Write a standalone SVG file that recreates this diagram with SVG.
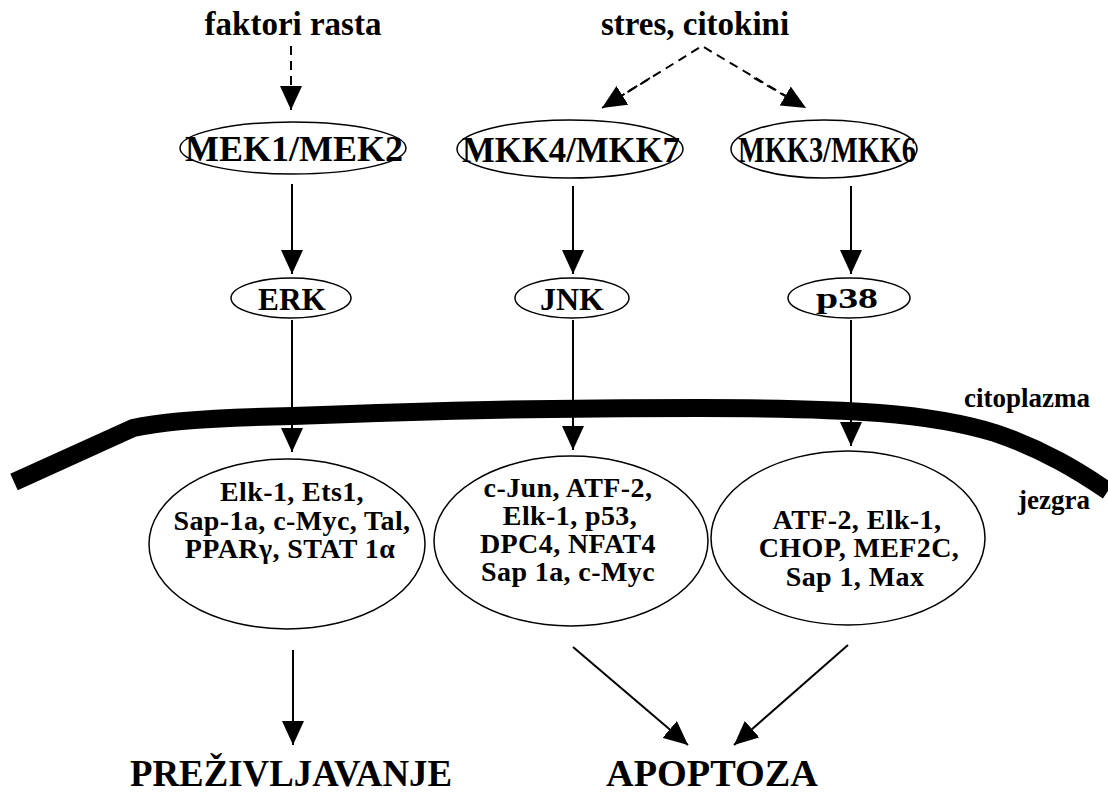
<svg xmlns="http://www.w3.org/2000/svg" width="1108" height="798" viewBox="0 0 1108 798">
<style>
.t{font-family:"Liberation Serif","Times New Roman",serif;font-weight:bold;fill:#000;text-anchor:middle}
.s{font-size:28px;letter-spacing:0.4px}
.n{fill:#fff;stroke:#000;stroke-width:1.5}
.c{stroke:#000;stroke-width:2;fill:none}
.d{stroke:#000;stroke-width:2;fill:none;stroke-dasharray:9 6}
</style>
<defs>
<marker id="ah" viewBox="0 0 24 22" refX="24" refY="11" markerWidth="24" markerHeight="22" markerUnits="userSpaceOnUse" orient="auto">
<path d="M0,0 L24,11 L0,22 z" fill="#000"/>
</marker>
</defs>
<rect width="1108" height="798" fill="#fff"/>
<path d="M 14,482 L 133,428 Q 175,418 293,416 C 450,410 550,408 700,408 C 850,408 930,413 995,433 C 1045,450 1080,472 1108,491" stroke="#000" stroke-width="18" fill="none"/>
<text class="t" x="1027" y="407" font-size="27">citoplazma</text>
<text class="t" x="1054" y="509" font-size="27">jezgra</text>
<text class="t" x="293" y="35" font-size="33">faktori rasta</text>
<text class="t" x="695" y="35" font-size="33">stres, citokini</text>
<g id="connectors">
<line class="d" x1="291" y1="46" x2="291" y2="110" marker-end="url(#ah)"/>
<polyline class="d" points="602,108 702,46 806,108"/>
<line class="c" x1="650" y1="78" x2="602" y2="108" marker-end="url(#ah)" stroke-dasharray="9 6"/>
<line class="c" x1="754" y1="78" x2="806" y2="108" marker-end="url(#ah)" stroke-dasharray="9 6"/>
<line class="c" x1="292" y1="184" x2="292" y2="274" marker-end="url(#ah)"/>
<line class="c" x1="573" y1="186" x2="573" y2="274" marker-end="url(#ah)"/>
<line class="c" x1="851" y1="186" x2="851" y2="274" marker-end="url(#ah)"/>
<line class="c" x1="292" y1="320" x2="292" y2="452" marker-end="url(#ah)"/>
<line class="c" x1="573" y1="320" x2="573" y2="450" marker-end="url(#ah)"/>
<line class="c" x1="851" y1="320" x2="851" y2="446" marker-end="url(#ah)"/>
<line class="c" x1="293" y1="650" x2="293" y2="745" marker-end="url(#ah)"/>
<line class="c" x1="573" y1="647" x2="688" y2="745" marker-end="url(#ah)"/>
<line class="c" x1="848" y1="645" x2="734" y2="745" marker-end="url(#ah)"/>
</g>
<g id="mek">
<ellipse class="n" cx="293" cy="148" rx="113" ry="26"/>
<text class="t" x="294" y="161" font-size="36" textLength="218" lengthAdjust="spacingAndGlyphs">MEK1/MEK2</text>
</g>
<g id="mkk47">
<ellipse class="n" cx="570" cy="149" rx="113" ry="29"/>
<text class="t" x="571" y="162" font-size="35" textLength="218" lengthAdjust="spacingAndGlyphs">MKK4/MKK7</text>
</g>
<g id="mkk36">
<ellipse class="n" cx="824" cy="149" rx="93" ry="29"/>
<text class="t" x="827" y="162" font-size="35" textLength="178" lengthAdjust="spacingAndGlyphs">MKK3/MKK6</text>
</g>
<g id="erk">
<ellipse class="n" cx="291" cy="298" rx="60" ry="20"/>
<text class="t" x="292" y="310" font-size="31" textLength="68" lengthAdjust="spacingAndGlyphs">ERK</text>
</g>
<g id="jnk">
<ellipse class="n" cx="572" cy="298" rx="57" ry="20"/>
<text class="t" x="572" y="310" font-size="31" textLength="64" lengthAdjust="spacingAndGlyphs">JNK</text>
</g>
<g id="p38">
<ellipse class="n" cx="849" cy="298" rx="61" ry="20"/>
<text class="t" x="847" y="308" font-size="29" textLength="62" lengthAdjust="spacingAndGlyphs">p38</text>
</g>
<g id="erk-targets">
<ellipse class="n" cx="287" cy="544" rx="138" ry="85"/>
<text class="t s" x="292" y="501">Elk-1, Ets1,</text>
<text class="t s" x="292" y="530">Sap-1a, c-Myc, Tal,</text>
<text class="t s" x="290" y="558">PPARγ, STAT 1α</text>
</g>
<g id="jnk-targets">
<ellipse class="n" cx="571" cy="541" rx="137" ry="85"/>
<text class="t s" x="568" y="497">c-Jun, ATF-2,</text>
<text class="t s" x="570" y="525">Elk-1, p53,</text>
<text class="t s" x="568" y="553">DPC4, NFAT4</text>
<text class="t s" x="568" y="581">Sap 1a, c-Myc</text>
</g>
<g id="p38-targets">
<ellipse class="n" cx="848" cy="538" rx="137" ry="87"/>
<text class="t s" x="857" y="529">ATF-2, Elk-1,</text>
<text class="t s" x="859" y="557">CHOP, MEF2C,</text>
<text class="t s" x="855" y="586">Sap 1, Max</text>
</g>
<g id="survival">
<text class="t" x="291" y="786" font-size="37" textLength="322" lengthAdjust="spacingAndGlyphs">PREŽIVLJAVANJE</text>
</g>
<g id="apoptosis">
<text class="t" x="712" y="786" font-size="37" textLength="212" lengthAdjust="spacingAndGlyphs">APOPTOZA</text>
</g>
</svg>
